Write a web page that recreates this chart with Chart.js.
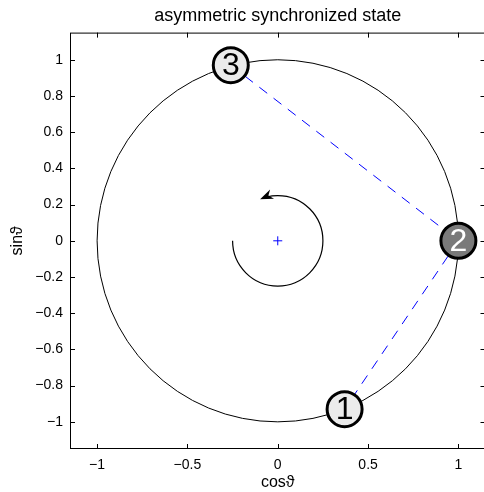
<!DOCTYPE html>
<html>
<head>
<meta charset="utf-8">
<script src="https://cdn.jsdelivr.net/npm/chart.js@4"></script>
<style>
  html, body { margin: 0; padding: 0; background: #fff; overflow: hidden; }
  #wrap { width: 506px; height: 492px; }
</style>
</head>
<body>
<div id="wrap"><canvas id="phase" width="506" height="492"></canvas></div>
<script>
// oscillator positions on the unit circle (cos, sin of each phase)
const nodeLabels = ['1', '2', '3'];
const nodeX = [0.37, 1.0, -0.26];
const nodeY = [-0.93, 0.0, 0.97];
// dashed links run 3 -> 2 -> 1
const linkOrder = [2, 1, 0];

const xTicks = [-1, -0.5, 0, 0.5, 1];
const yTicks = [-1, -0.8, -0.6, -0.4, -0.2, 0, 0.2, 0.4, 0.6, 0.8, 1];
const axisMin = -1.15;
const axisMax = 1.15;

const circleRadius = 1;
// rotation arrow round the origin, angles in degrees
const spinRadius = 0.25;
const spinStart = 180;
const spinEnd = 113;

const FONT = "'Liberation Sans', Arial, Helvetica, sans-serif";
const fmt = v => String(v).replace('-', '\u2212');
const rad = d => d * Math.PI / 180;

// unit circle + rotation arrow under the data, box and inward ticks on top
const decorations = {
  id: 'decorations',
  beforeDatasetsDraw(chart) {
    const { ctx, scales: { x, y } } = chart;
    const cx = x.getPixelForValue(0), cy = y.getPixelForValue(0);
    const rx = x.getPixelForValue(circleRadius) - cx;
    const ry = cy - y.getPixelForValue(circleRadius);
    ctx.save();
    ctx.strokeStyle = '#000';
    ctx.lineWidth = 1;
    ctx.beginPath();
    ctx.ellipse(cx, cy, rx, ry, 0, 0, Math.PI * 2);
    ctx.stroke();

    const sx = x.getPixelForValue(spinRadius) - cx;
    const sy = cy - y.getPixelForValue(spinRadius);
    const a0 = -rad(spinStart), a1 = -rad(spinEnd);
    ctx.lineWidth = 1.2;
    ctx.beginPath();
    ctx.ellipse(cx, cy, sx, sy, 0, a0, a1 + 0.15, true);
    ctx.stroke();

    // arrow head at the end of the arc
    const tx = cx + sx * Math.cos(a1), ty = cy + sy * Math.sin(a1);
    let dx = sx * Math.sin(a1), dy = -sy * Math.cos(a1);
    const len = Math.hypot(dx, dy);
    dx /= len; dy /= len;
    const nx = -dy, ny = dx;
    ctx.fillStyle = '#000';
    ctx.beginPath();
    ctx.moveTo(tx, ty);
    ctx.lineTo(tx - dx * 13 + nx * 5, ty - dy * 13 + ny * 5);
    ctx.lineTo(tx - dx * 9, ty - dy * 9);
    ctx.lineTo(tx - dx * 13 - nx * 5, ty - dy * 13 - ny * 5);
    ctx.closePath();
    ctx.fill();
    ctx.restore();
  },
  afterDraw(chart) {
    const { ctx, chartArea: a, scales: { x, y } } = chart;
    ctx.save();
    ctx.strokeStyle = '#000';
    ctx.lineWidth = 1;
    ctx.strokeRect(a.left + 0.5, a.top + 0.5, a.right - a.left - 1, a.bottom - a.top - 1);
    ctx.beginPath();
    xTicks.forEach(v => {
      const px = Math.round(x.getPixelForValue(v)) + 0.5;
      ctx.moveTo(px, a.top); ctx.lineTo(px, a.top + 5);
      ctx.moveTo(px, a.bottom); ctx.lineTo(px, a.bottom - 5);
    });
    yTicks.forEach(v => {
      const py = Math.round(y.getPixelForValue(v)) + 0.5;
      ctx.moveTo(a.left, py); ctx.lineTo(a.left + 5, py);
      ctx.moveTo(a.right, py); ctx.lineTo(a.right - 5, py);
    });
    ctx.stroke();
    ctx.restore();
  }
};

// numbers inside the node discs
const nodeText = {
  id: 'nodeText',
  afterDatasetsDraw(chart) {
    const { ctx } = chart;
    const meta = chart.getDatasetMeta(0);
    ctx.save();
    ctx.font = `32px ${FONT}`;
    ctx.textAlign = 'center';
    ctx.textBaseline = 'middle';
    meta.data.forEach((pt, i) => {
      ctx.fillStyle = i === 1 ? '#fff' : '#000';
      ctx.fillText(nodeLabels[i], pt.x, pt.y + 1);
    });
    ctx.restore();
  }
};

const tickFont = { family: FONT, size: 14 };
const labelFont = { family: FONT, size: 16 };

new Chart(document.getElementById('phase'), {
  type: 'scatter',
  data: {
    datasets: [
      {
        label: 'nodes',
        data: nodeX.map((v, i) => ({ x: v, y: nodeY[i] })),
        pointRadius: 17.5,
        pointBackgroundColor: ['#ebebeb', '#7a7a7a', '#ebebeb'],
        pointBorderColor: '#000',
        pointBorderWidth: 3,
        order: 0,
      },
      {
        label: 'centre',
        data: [{ x: 0, y: 0 }],
        pointStyle: 'cross',
        pointRadius: 4.5,
        pointBorderColor: '#0000ff',
        pointBorderWidth: 1,
        order: 1,
      },
      {
        label: 'links',
        data: linkOrder.map(i => ({ x: nodeX[i], y: nodeY[i] })),
        showLine: true,
        borderColor: '#0000ff',
        borderWidth: 1,
        borderDash: [10, 8],
        pointRadius: 0,
        order: 2,
      },
    ],
  },
  options: {
    responsive: false,
    animation: false,
    events: [],
    layout: { padding: 0 },
    plugins: {
      legend: { display: false },
      tooltip: { enabled: false },
      title: {
        display: true,
        fullSize: false,
        text: 'asymmetric synchronized state',
        color: '#000',
        font: { family: FONT, size: 18, weight: 'normal' },
        padding: { top: 5, bottom: 6 },
      },
    },
    scales: {
      x: {
        type: 'linear',
        min: axisMin,
        max: axisMax,
        afterBuildTicks: s => { s.ticks = xTicks.map(v => ({ value: v })); },
        afterFit: s => { s.height = 43; s.paddingLeft = 0; s.paddingRight = 0; },
        grid: { display: false, drawTicks: false },
        border: { display: false },
        ticks: { color: '#000', font: tickFont, padding: 8, maxRotation: 0, autoSkip: false, callback: fmt },
        title: { display: true, text: 'cos\u03d1', color: '#000', font: labelFont, padding: { top: 0, bottom: 0 } },
      },
      y: {
        type: 'linear',
        min: axisMin,
        max: axisMax,
        afterBuildTicks: s => { s.ticks = yTicks.map(v => ({ value: v })); },
        afterFit: s => { s.width = 70; s.paddingTop = 0; s.paddingBottom = 0; },
        grid: { display: false, drawTicks: false },
        border: { display: false },
        ticks: { color: '#000', font: tickFont, padding: 7, autoSkip: false, callback: fmt },
        title: { display: true, text: 'sin\u03d1', color: '#000', font: labelFont, padding: { top: 8, bottom: 0 } },
      },
    },
  },
  plugins: [decorations, nodeText],
});
</script>
</body>
</html>
